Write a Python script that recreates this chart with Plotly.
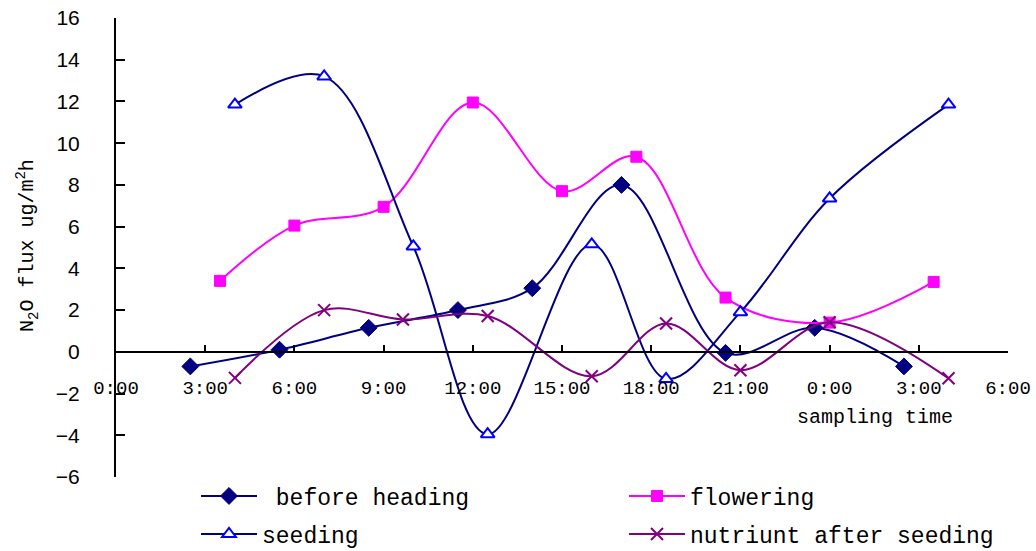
import plotly.graph_objects as go

# ---- data (hours since 0:00 of first day) ----
before_x = [2.5, 5.5, 8.5, 11.5, 14.0, 17.0, 20.5, 23.5, 26.5]
before_y = [-0.7, 0.1, 1.15, 2.0, 3.05, 8.0, -0.05, 1.15, -0.7]

flower_x = [3.5, 6.0, 9.0, 12.0, 15.0, 17.5, 20.5, 24.0, 27.5]
flower_y = [3.4, 6.05, 6.95, 11.95, 7.7, 9.35, 2.6, 1.4, 3.35]

seed_x = [4.0, 7.0, 10.0, 12.5, 16.0, 18.5, 21.0, 24.0, 28.0]
seed_y = [11.85, 13.2, 5.05, -3.95, 5.15, -1.3, 1.9, 7.35, 11.85]

nutr_x = [4.0, 7.0, 9.65, 12.5, 16.0, 18.5, 21.0, 24.0, 28.0]
nutr_y = [-1.25, 2.0, 1.55, 1.72, -1.17, 1.36, -0.88, 1.42, -1.27]

tick_vals = [0, 3, 6, 9, 12, 15, 18, 21, 24, 27, 30]
tick_text = ["0:00", "3:00", "6:00", "9:00", "12:00", "15:00", "18:00",
             "21:00", "0:00", "3:00", "6:00"]
y_ticks = [-6, -4, -2, 0, 2, 4, 6, 8, 10, 12, 14, 16]

NAVY = "#000080"
MAG = "#FF00FF"
BLUE = "#0000FF"
PURP = "#800080"
MONO = "Liberation Mono, DejaVu Sans Mono, monospace"

W, H = 1036, 551
ml, mr, mt, mb = 116, 28, 18, 74
pw = W - ml - mr
ph = H - mt - mb

def px_x(px):
    return (px - ml) / pw

def px_y(py):
    return (H - mb - py) / ph

fig = go.Figure()
fig.add_trace(go.Scatter(
    x=before_x, y=before_y, name="\u00a0before heading", mode="lines+markers",
    line=dict(color=NAVY, width=2, shape="spline", smoothing=1.0),
    marker=dict(symbol="diamond", size=13, color=NAVY, line=dict(color=NAVY, width=1)),
    legend="legend"))
fig.add_trace(go.Scatter(
    x=flower_x, y=flower_y, name="flowering", mode="lines+markers",
    line=dict(color=MAG, width=2, shape="spline", smoothing=1.0),
    marker=dict(symbol="square", size=11, color=MAG, line=dict(color=MAG, width=1)),
    legend="legend2"))
fig.add_trace(go.Scatter(
    x=seed_x, y=seed_y, name="seeding", mode="lines+markers",
    line=dict(color=NAVY, width=2, shape="spline", smoothing=1.0),
    marker=dict(symbol="triangle-up", size=12, color="white", line=dict(color=BLUE, width=2)),
    legend="legend3"))
fig.add_trace(go.Scatter(
    x=nutr_x, y=nutr_y, name="nutriunt after seeding", mode="lines+markers",
    line=dict(color=PURP, width=2, shape="spline", smoothing=1.0),
    marker=dict(symbol="x-thin", size=12, color=PURP, line=dict(color=PURP, width=2)),
    legend="legend4"))

def leg(xpx, ypx):
    return dict(orientation="h", x=px_x(xpx), xanchor="left", y=px_y(ypx), yanchor="middle",
                itemwidth=56, font=dict(family=MONO, size=23, color="black"),
                bgcolor="rgba(0,0,0,0)")

fig.update_layout(
    width=W, height=H,
    margin=dict(l=ml, r=mr, t=mt, b=mb, pad=0, autoexpand=False),
    paper_bgcolor="white", plot_bgcolor="white",
    showlegend=True,
    xaxis=dict(range=[0, 30], tickvals=tick_vals, ticktext=tick_text,
               showgrid=False, zeroline=False, showline=True, linecolor="black",
               linewidth=2, ticks="inside", ticklen=6, tickwidth=2, tickcolor="black",
               anchor="free", position=6 / 22, ticklabelstandoff=18,
               tickfont=dict(family=MONO, size=19, color="black")),
    yaxis=dict(range=[-6, 16], tickvals=y_ticks, showgrid=False, zeroline=False,
               showline=True, linecolor="black", linewidth=2, ticks="inside",
               ticklen=9, tickwidth=2, tickcolor="black", ticklabelstandoff=30,
               tickfont=dict(family="Liberation Sans, Arial, sans-serif", size=21, color="black")),
    legend=leg(196, 496),
    legend2=leg(624, 496),
    legend3=leg(196, 534),
    legend4=leg(624, 534),
    annotations=[
        dict(text="sampling time", xref="paper", yref="paper", x=px_x(875), y=px_y(417),
             xanchor="center", yanchor="middle", showarrow=False,
             font=dict(family=MONO, size=20, color="black")),
        dict(text="N<sub>2</sub>O flux ug/m<sup>2</sup>h", xref="paper", yref="paper",
             x=px_x(27), y=px_y(246), xanchor="center", yanchor="middle", textangle=-90,
             showarrow=False, font=dict(family=MONO, size=20, color="black")),
    ],
)

fig.write_html("out.html", config={"displayModeBar": False},
               post_script="document.body.style.margin='0';")
